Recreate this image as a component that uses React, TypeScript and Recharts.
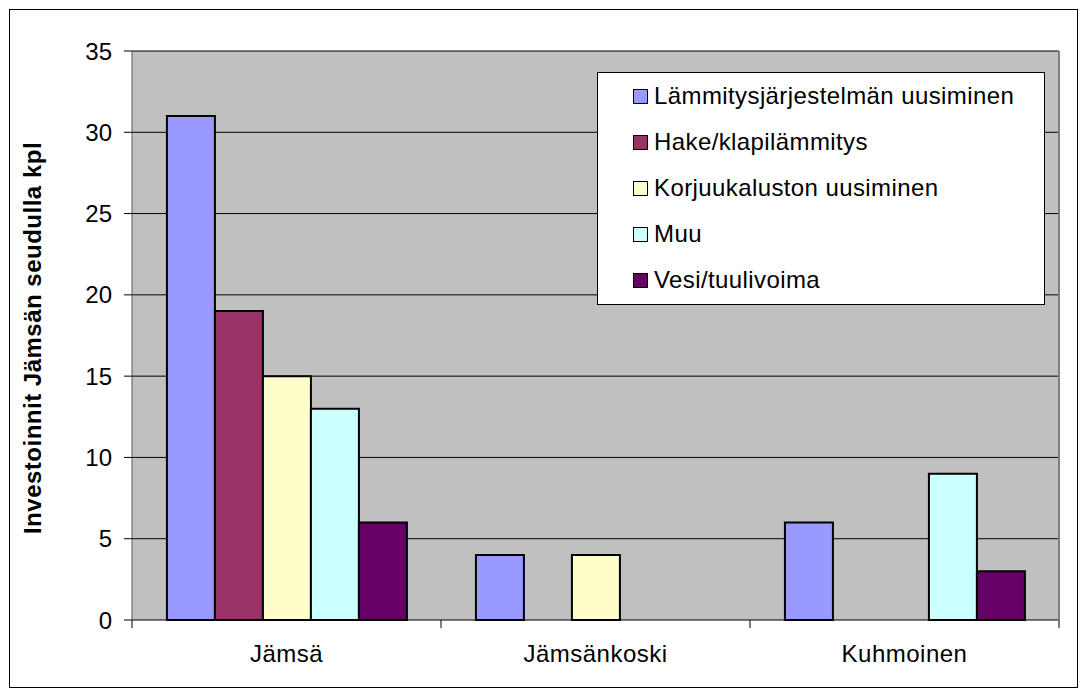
import React from 'react';
import { BarChart, Bar, XAxis, YAxis, CartesianGrid, Legend, ReferenceLine } from 'recharts';

const categories = ['Jämsä', 'Jämsänkoski', 'Kuhmoinen'];
const lammitysjarjestelma = [31, 4, 6];
const hakeKlapi = [19, 0, 0];
const korjuukalusto = [15, 4, 0];
const muu = [13, 0, 9];
const vesiTuuli = [6, 0, 3];
const yTicks = [0, 5, 10, 15, 20, 25, 30, 35];
const edgeTicks = [0, 1, 2, 3];

const series = [
  { key: 'lammitys', name: 'Lämmitysjärjestelmän uusiminen', color: '#9999FF', values: lammitysjarjestelma },
  { key: 'hake', name: 'Hake/klapilämmitys', color: '#993366', values: hakeKlapi },
  { key: 'korjuu', name: 'Korjuukaluston uusiminen', color: '#FFFFCC', values: korjuukalusto },
  { key: 'muu', name: 'Muu', color: '#CCFFFF', values: muu },
  { key: 'vesi', name: 'Vesi/tuulivoima', color: '#660066', values: vesiTuuli },
];

// idx = category centre on a 0..3 scale, used by the hidden axis for the boundary tick marks
const data = categories.map((name, i) => {
  const row: Record<string, string | number> = { name, idx: i + 0.5 };
  series.forEach((s) => { row[s.key] = s.values[i]; });
  return row;
});

const FONT = '"Liberation Sans", Arial, sans-serif';
// length of the category boundary tick marks below the axis, in y units (about 8px)
const EDGE_TICK = 0.5;

const LegendBox = () => (
  <div
    style={{
      width: 448,
      height: 233,
      background: '#fff',
      border: '1px solid #000',
      boxSizing: 'border-box',
      paddingTop: 0,
      fontFamily: FONT,
      fontSize: 24,
      letterSpacing: 0.4,
      color: '#000',
    }}
  >
    {series.map((s) => (
      <div key={s.key} style={{ display: 'flex', alignItems: 'center', height: 46, paddingLeft: 35 }}>
        <span
          style={{
            width: 13,
            height: 13,
            background: s.color,
            border: '1.5px solid #000',
            marginRight: 6,
            flex: 'none',
          }}
        />
        <span>{s.name}</span>
      </div>
    ))}
  </div>
);

export default function App() {
  return (
    <div
      style={{
        position: 'absolute',
        left: 0,
        top: 0,
        width: 1087,
        height: 695,
        background: '#fff',
        fontFamily: FONT,
      }}
    >
      <div
        style={{
          position: 'absolute',
          left: 9,
          top: 9,
          width: 1069,
          height: 679,
          border: '1px solid #000',
          boxSizing: 'border-box',
        }}
      />
      <svg width={60} height={695} style={{ position: 'absolute', left: 0, top: 0 }}>
        <text
          transform="translate(32,338) rotate(-90)"
          textAnchor="middle"
          dominantBaseline="central"
          fontFamily={FONT}
          fontWeight="bold"
          fontSize={24}
          letterSpacing={0.5}
          fill="#000"
        >
          Investoinnit Jämsän seudulla kpl
        </text>
      </svg>
      <div style={{ position: 'absolute', left: 0, top: 0 }}>
        <BarChart
          width={1087}
          height={695}
          data={data}
          margin={{ top: 51, right: 0, bottom: 0, left: 0 }}
          barCategoryGap="11.3%"
          barGap={0}
        >
          <CartesianGrid
            vertical={false}
            stroke="#000"
            strokeWidth={1}
            fill="#C0C0C0"
            fillOpacity={1}
            xAxisId="cat"
            yAxisId="left"
          />
          <XAxis
            xAxisId="edges"
            dataKey="idx"
            type="number"
            domain={[0, 3]}
            allowDataOverflow
            hide
          />
          <XAxis
            xAxisId="cat"
            dataKey="name"
            height={75}
            tickLine={false}
            tickSize={7}
            tickMargin={18}
            axisLine={false}
            tick={{ fill: '#000', fontSize: 24, fontFamily: FONT, letterSpacing: 0.5 }}
          />
          <YAxis
            yAxisId="left"
            width={132}
            domain={[0, 35]}
            ticks={yTicks}
            interval={0}
            tickSize={8}
            tickMargin={12}
            axisLine={{ stroke: '#555' }}
            tickLine={{ stroke: '#000' }}
            tick={{ fill: '#000', fontSize: 24, fontFamily: FONT }}
          />
          <YAxis
            yAxisId="right"
            orientation="right"
            width={28}
            domain={[0, 35]}
            tick={false}
            tickLine={false}
            axisLine={{ stroke: '#808080', strokeWidth: 2 }}
          />
          {edgeTicks.map((e) => (
            <ReferenceLine
              key={e}
              xAxisId="edges"
              yAxisId="left"
              segment={[{ x: e, y: 0 }, { x: e, y: -EDGE_TICK }]}
              ifOverflow="visible"
              stroke="#000"
              strokeWidth={1}
            />
          ))}
          <Legend
            layout="vertical"
            align="center"
            verticalAlign="middle"
            wrapperStyle={{ left: 597, top: 72, width: 448, height: 233 }}
            content={() => <LegendBox />}
          />
          {series.map((s) => (
            <Bar
              key={s.key}
              dataKey={s.key}
              name={s.name}
              xAxisId="cat"
              yAxisId="left"
              fill={s.color}
              stroke="#000"
              strokeWidth={2}
              isAnimationActive={false}
            />
          ))}
        </BarChart>
      </div>
    </div>
  );
}
